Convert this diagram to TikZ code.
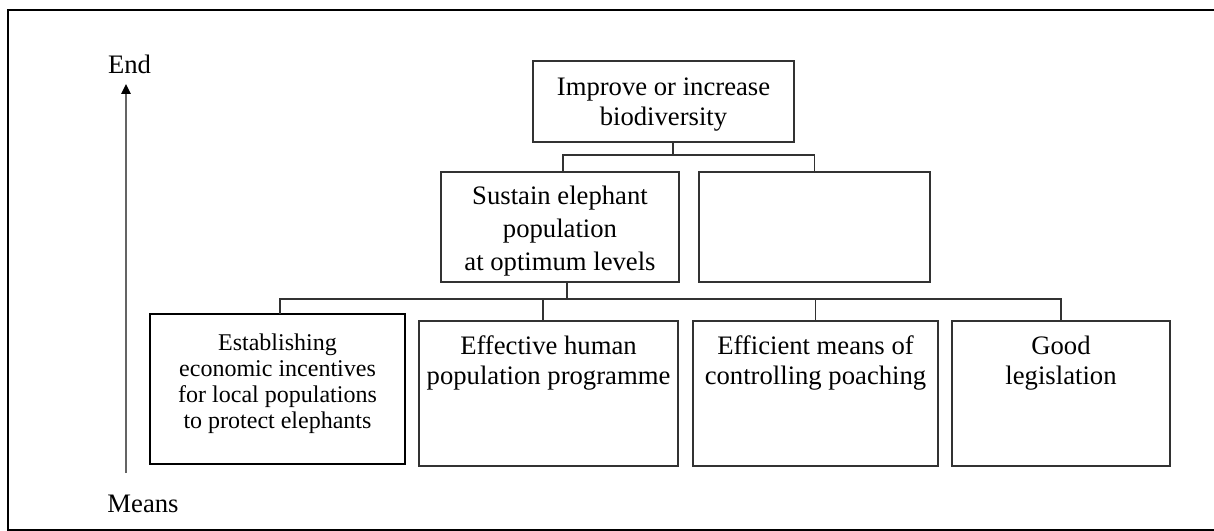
\documentclass[tikz,border=0pt]{standalone}
\usepackage{fontspec}
\setmainfont{Liberation Serif}
\usetikzlibrary{arrows.meta}
\definecolor{boxgray}{RGB}{50,50,50}
\definecolor{axisgray}{RGB}{100,100,100}
\begin{document}
\begin{tikzpicture}[x=0.75pt,y=-0.75pt,
  box/.style={draw=boxgray, line width=1.3pt, rectangle, inner sep=0pt, outer sep=0pt},
  keybox/.style={draw=black, line width=2.2pt, rectangle, inner sep=0pt, outer sep=0pt},
  lbl/.style={anchor=north, align=center, inner sep=0pt, outer sep=0pt,
    font=\fontsize{20}{23}\selectfont},
  link/.style={draw=boxgray, line width=1.3pt},
  axis/.style={draw=axisgray, line width=1.4pt,
    -{Triangle[length=7.5pt,width=7pt,color=black]}},
  axislbl/.style={anchor=base, inner sep=0pt, font=\fontsize{20}{23}\selectfont}
]
\useasboundingbox (0,0) rectangle (1214,531);

% outer frame (open on the right)
\draw[line width=1.5pt] (1216,10) -- (8,10) -- (8,530) -- (1216,530);

% means-end axis
\coordinate (axisLow) at (126,473);
\coordinate (axisHigh) at (126,84);
\draw[axis] (axisLow) -- (axisHigh);
\node[axislbl] (endLbl) at (129.5,74) {End};
\node[axislbl] (meansLbl) at (143,512) {Means};

% goal level
\node[box, minimum width=261*0.75pt, minimum height=81*0.75pt] (top) at (663.5,101.5) {};
\node[lbl, font=\fontsize{20}{22.5}\selectfont] (topText) at ([yshift=-12.4pt]top.north)
  {Improve or increase\\biodiversity};

% objective level
\node[box, minimum width=238*0.75pt, minimum height=110*0.75pt] (sustain) at (560,227) {};
\node[lbl, font=\fontsize{20}{24.75}\selectfont] (sustainText) at ([yshift=-10.5pt]sustain.north)
  {Sustain elephant\\population\\at optimum levels};
\node[box, minimum width=231*0.75pt, minimum height=110*0.75pt] (blank) at (814.5,227) {};

% means level
\node[keybox, minimum width=255*0.75pt, minimum height=150*0.75pt] (b1) at (277.5,389) {};
\node[lbl, font=\fontsize{18}{19.5}\selectfont] (b1Text) at ([yshift=-15pt]b1.north)
  {Establishing\\economic incentives\\for local populations\\to protect elephants};
\node[box, minimum width=259*0.75pt, minimum height=145*0.75pt] (b2) at (548.5,393.5) {};
\node[lbl] (b2Text) at ([yshift=-10.9pt]b2.north) {Effective human\\population programme};
\node[box, minimum width=245*0.75pt, minimum height=145*0.75pt] (b3) at (815.5,393.5) {};
\node[lbl] (b3Text) at ([yshift=-10.9pt]b3.north) {Efficient means of\\controlling poaching};
\node[box, minimum width=218*0.75pt, minimum height=145*0.75pt] (b4) at (1061,393.5) {};
\node[lbl] (b4Text) at ([yshift=-10.9pt]b4.north) {Good\\legislation};

% tree connectors, upper level
\coordinate (topTap) at ([xshift=7.1pt]top.south);
\coordinate (sustainTap) at ([xshift=2.25pt]sustain.north);
\draw[link] (topTap) -- ++(0,13);
\draw[link] (sustainTap) -- ++(0,-17) -| (blank.north);

% tree connectors, lower level
\coordinate (bus) at (0,299);
\coordinate (sustainDrop) at ([xshift=5.25pt]sustain.south);
\coordinate (b1Tap) at ([xshift=1.9pt]b1.north);
\coordinate (b2Tap) at ([xshift=-4.1pt]b2.north);
\draw[link] (sustainDrop) -- (sustainDrop |- bus);
\draw[link] (b1Tap) -- (b1Tap |- bus) -| (b4.north);
\draw[link] (b2Tap) -- (b2Tap |- bus);
\draw[link] (b3.north) -- (b3.north |- bus);
\end{tikzpicture}
\end{document}
